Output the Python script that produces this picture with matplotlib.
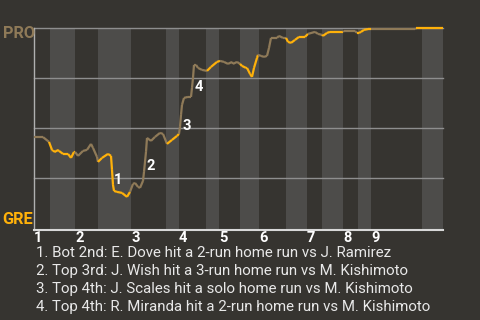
import matplotlib.pyplot as plt

# game progress units (left edge = 0), half inning boundaries
half_edges = [0, 16, 41, 64, 97, 132, 145, 172, 185, 206, 225, 252, 273, 288, 309, 324, 337, 388, 409]
innings = ['1', '2', '3', '4', '5', '6', '7', '8', '9']

# PRO win probability (%) along the game
prog = [0, 9, 15, 18, 19, 22, 23, 25, 29, 30, 34, 37, 40, 41, 44, 49, 53, 57, 59, 63,
        64, 68, 74, 77, 78, 79, 80, 83, 88, 93, 96, 99, 101, 104, 106, 109, 110, 112, 113, 117,
        121, 126, 129, 133, 138, 143, 145, 146, 147, 148, 150, 154, 157, 158, 159, 160, 162, 164, 168, 173,
        177, 183, 186, 190, 194, 198, 199, 203, 206, 208, 212, 213, 216, 218, 220, 223, 224, 227, 230, 233,
        235, 237, 243, 245, 249, 252, 254, 257, 261, 265, 271, 274, 281, 284, 288, 289, 293, 296, 301, 309,
        310, 321, 323, 325, 327, 330, 334, 337, 350, 381, 382, 409]
wp = [45.6, 45.6, 43.2, 39.2, 38.7, 38.2, 39.2, 38.7, 37.2, 37.2, 37.2, 35.2, 38.2, 38.2, 36.2, 38.7, 39.2, 42.2, 40.2, 35.7,
      33.2, 35.2, 37.2, 36.2, 29.2, 21.7, 18.7, 18.2, 17.7, 15.7, 18.2, 22.2, 22.7, 20.7, 20.2, 23.7, 28.2, 38.2, 45.2, 43.7,
      45.7, 47.7, 47.2, 42.2, 44.2, 46.2, 47.2, 50.7, 56.7, 61.7, 65.2, 65.7, 65.7, 70.2, 75.2, 81.7, 81.7, 80.2, 79.2, 78.7,
      80.7, 83.2, 83.7, 83.2, 82.2, 83.2, 82.2, 83.2, 82.2, 81.2, 80.2, 80.2, 77.2, 75.7, 80.2, 85.2, 86.7, 86.2, 85.7, 86.2,
      90.2, 95.2, 95.2, 96.2, 95.2, 95.2, 93.2, 92.7, 94.2, 95.7, 95.7, 97.2, 98.2, 97.2, 96.7, 96.2, 97.7, 98.2, 98.2, 98.2,
      98.7, 98.7, 97.7, 97.7, 98.2, 99.2, 99.6, 99.6, 99.6, 99.6, 100, 100]

# key plays: label, progress, wp position
play_nums = ['1', '2', '3', '4']
play_x = [84, 117, 153, 165]
play_y = [24.2, 31.2, 51.2, 70.7]
play_text = [
    '1. Bot 2nd: E. Dove hit a 2-run home run vs J. Ramirez',
    '2. Top 3rd: J. Wish hit a 3-run home run vs M. Kishimoto',
    '3. Top 4th: J. Scales hit a solo home run vs M. Kishimoto',
    '4. Top 4th: R. Miranda hit a 2-run home run vs M. Kishimoto',
]

bg = '#363430'
band = '#4d4c4a'
tan = '#8f7a58'
orange = '#ffb10a'

plt.rcParams['font.family'] = ['Roboto', 'DejaVu Sans']

fig = plt.figure(figsize=(4.8, 3.2), dpi=100, facecolor=bg)
ax = fig.add_axes([34 / 480, 1 - 230 / 320, 409 / 480, (230 - 28.3) / 320])
ax.set_facecolor(bg)
ax.set_xlim(0, 409)
ax.set_ylim(-0.85, 100)

for i in range(1, len(half_edges) - 1, 2):
    ax.axvspan(half_edges[i], half_edges[i + 1], color=band, lw=0, zorder=0)

for g in [25, 50, 75, 100]:
    ax.axhline(g, color='#8e8e8e', lw=1, zorder=1, clip_on=False)

# color each segment by batting team of its half inning
for i in range(len(prog) - 1):
    mid = (prog[i] + prog[i + 1]) / 2
    h = 0
    for j in range(len(half_edges) - 1):
        if half_edges[j] <= mid < half_edges[j + 1]:
            h = j
    c = tan if h % 2 == 0 else orange
    ax.plot(prog[i:i + 2], wp[i:i + 2], color=c, lw=1.6, solid_capstyle='butt',
            zorder=3, clip_on=False)

for n, x, y in zip(play_nums, play_x, play_y):
    ax.text(x, y, n, color='white', fontsize=10.5, fontweight='bold', ha='center', va='center', zorder=4)

for s in ['top', 'right']:
    ax.spines[s].set_visible(False)
ax.spines['left'].set_color('#b0b0b0')
ax.spines['left'].set_linewidth(1)
ax.spines['bottom'].set_color('#d8d8d8')
ax.spines['bottom'].set_linewidth(1.5)

ax.set_yticks([])
ax.set_xticks([half_edges[k] for k in range(0, 18, 2)])
ax.set_xticklabels(innings, fontsize=10.5, fontweight='bold', color='white', ha='left')
ax.tick_params(axis='x', length=0, pad=1)

fig.text(3 / 480, 1 - 33.5 / 320, 'PRO', color=tan, fontsize=11.8, fontweight='bold', va='center', ha='left')
fig.text(2 / 480, 1 - 219.5 / 320, 'GRE', color=orange, fontsize=11.8, fontweight='bold', va='center', ha='left')

for k, t in enumerate(play_text):
    fig.text(36 / 480, 1 - (253 + 18 * k) / 320, t, color='#e8e8e8', fontsize=10.8, va='center', ha='left')

fig.savefig('out.png', dpi=100, facecolor=bg)
